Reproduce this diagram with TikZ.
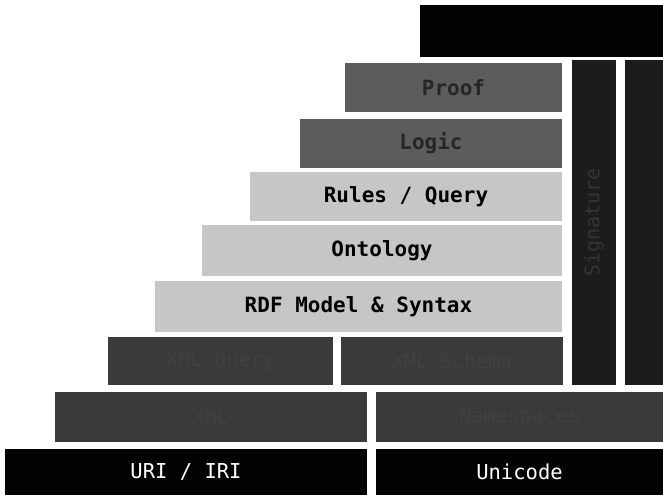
\documentclass[tikz,border=0pt]{standalone}
\usepackage{fontspec}
\setmonofont{DejaVu Sans Mono}
\definecolor{layerblack}{HTML}{020202}
\definecolor{layerdark}{HTML}{3A3A3A}
\definecolor{layermid}{HTML}{5C5C5C}
\definecolor{layerlight}{HTML}{C6C6C6}
\definecolor{layerbar}{HTML}{1C1C1C}
\definecolor{bartext}{HTML}{343434}
\tikzset{
  layer/.style={rectangle, inner sep=0pt, font=\ttfamily},
  blacklayer/.style={layer, fill=layerblack, text=white, font=\ttfamily\fontsize{20.5}{24}\selectfont},
  midlayer/.style={layer, fill=layermid, text=black!85, font=\ttfamily\bfseries\fontsize{21}{24}\selectfont},
  lightlayer/.style={layer, fill=layerlight, text=black, font=\ttfamily\bfseries\fontsize{21}{24}\selectfont},
  darklayer/.style={layer, fill=layerdark, text=black!75, font=\ttfamily\fontsize{20}{23}\selectfont},
  barlayer/.style={layer, fill=layerbar, text=bartext, font=\ttfamily\fontsize{20}{23}\selectfont},
}
\begin{document}
\begin{tikzpicture}[x=1pt, y=-1pt]
\useasboundingbox (0,0) rectangle (663,495);
% top layer
\node[layer, fill=layerblack, text=layerblack, minimum width=243pt, minimum height=52pt] (trust) at (541.5,31) {Trust};
% logic stack
\node[midlayer, minimum width=217pt, minimum height=49pt] (proof) at (453.5,87.5) {Proof};
\node[midlayer, minimum width=262pt, minimum height=49pt] (logic) at (431,143.5) {Logic};
\node[lightlayer, minimum width=312pt, minimum height=49pt] (rules) at (406,196.5) {Rules / Query};
\node[lightlayer, minimum width=360pt, minimum height=51pt] (onto) at (382,250.5) {Ontology};
\node[lightlayer, minimum width=407pt, minimum height=51pt] (rdf) at (358.5,306.5) {RDF Model \& Syntax};
% xml layers
\node[darklayer, minimum width=225pt, minimum height=48pt] (xmlq) at (220.5,361) {XML Query};
\node[darklayer, minimum width=222pt, minimum height=48pt] (xmls) at (452,361) {XML Schema};
\node[darklayer, minimum width=312pt, minimum height=50pt] (xml) at (211,417) {XML};
\node[darklayer, minimum width=287pt, minimum height=50pt] (ns) at (519.5,417) {Namespaces};
% vertical bars
\node[barlayer, minimum width=44pt, minimum height=325pt] (sig) at (594,222.5) {};
\node[barlayer, rotate=90] (sigtext) at (sig.center) {Signature};
\node[barlayer, minimum width=38pt, minimum height=325pt] (enc) at (644,222.5) {};
\node[barlayer, text=layerbar, rotate=90] (enctext) at (enc.center) {Encryption};
% base layers
\node[blacklayer, minimum width=362pt, minimum height=46pt] (uri) at (186,472) {URI / IRI};
\node[blacklayer, minimum width=287pt, minimum height=46pt] (uni) at (519.5,472) {Unicode};
\end{tikzpicture}
\end{document}
